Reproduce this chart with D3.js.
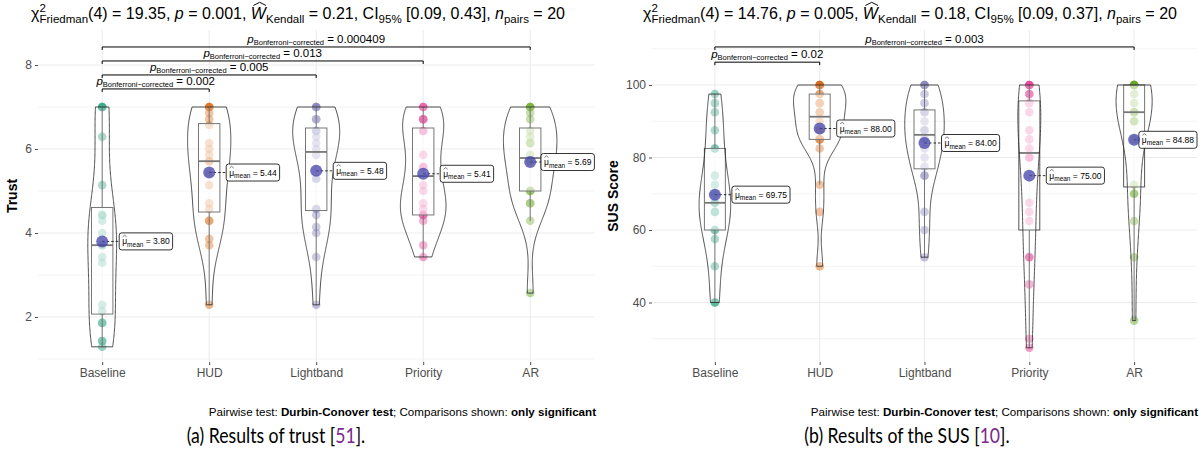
<!DOCTYPE html>
<html>
<head>
<meta charset="utf-8">
<script src="https://cdn.jsdelivr.net/npm/d3@7"></script>
<style>
  body { margin: 0; background: #fff; }
  svg { display: block; }
  text { font-family: "Liberation Sans", Arimo, Arial, sans-serif; white-space: pre; }
</style>
</head>
<body>
<div class="chart"></div>
<script>
// Conditions and palette (Dark2)
var conditions = ["Baseline", "HUD", "Lightband", "Priority", "AR"];
var conditionColors = ["#1B9E77", "#D95F02", "#7570B3", "#E7298A", "#66A61E"];

// Trust ratings, one array per condition (n = 20)
var trustBaseline = [1.29, 1.43, 1.43, 1.86, 1.86, 2.14, 2.29, 3.29, 3.43, 3.71, 3.71, 4.00, 4.29, 4.43, 4.43, 5.14, 6.29, 7, 7, 7];
var trustHUD = [2.29, 3.71, 3.86, 4.29, 4.29, 4.57, 4.71, 5.14, 5.43, 5.71, 5.71, 5.86, 6.00, 6.14, 6.57, 6.71, 6.86, 7, 7, 7];
var trustLightband = [2.29, 3.43, 4.00, 4.14, 4.43, 4.57, 4.57, 5.29, 5.29, 5.86, 6.00, 6.14, 6.29, 6.43, 6.43, 6.71, 6.71, 7, 7, 7];
var trustPriority = [3.43, 3.71, 4.29, 4.43, 4.43, 4.43, 4.57, 4.71, 5.00, 5.14, 5.57, 5.57, 5.86, 6.43, 6.43, 6.71, 6.71, 6.71, 7, 7];
var trustAR = [2.57, 4.29, 4.71, 4.71, 5.00, 5.00, 5.00, 5.71, 5.71, 5.71, 5.86, 6.14, 6.14, 6.29, 6.43, 6.71, 6.86, 7, 7, 7];
var trustMeans = [3.80, 5.44, 5.48, 5.41, 5.69];

// SUS scores, one array per condition (n = 20)
var susBaseline = [40, 40, 50, 57.5, 60, 60, 65, 65, 67.5, 67.5, 67.5, 70, 72.5, 75, 82.5, 82.5, 87.5, 92.5, 95, 97.5];
var susHUD = [50, 65, 72.5, 82.5, 85, 85, 85, 87.5, 87.5, 90, 92.5, 92.5, 95, 95, 97.5, 97.5, 100, 100, 100, 100];
var susLightband = [52.5, 60, 65, 75, 75, 77.5, 80, 82.5, 85, 85, 87.5, 87.5, 90, 92.5, 92.5, 95, 97.5, 100, 100, 100];
var susPriority = [27.5, 30, 45, 52.5, 52.5, 62.5, 65, 67.5, 80, 80, 82.5, 85, 87.5, 92.5, 95, 97.5, 97.5, 100, 100, 100];
var susAR = [35, 52.5, 62.5, 70, 70, 72.5, 85, 90, 90, 92.5, 92.5, 92.5, 95, 97.5, 100, 100, 100, 100, 100, 100];
var susMeans = [69.75, 88.00, 84.00, 75.00, 84.88];

// Significant pairwise comparisons (Bonferroni-corrected p)
var trustPairs = [["Baseline", "HUD", "0.002"], ["Baseline", "Lightband", "0.005"], ["Baseline", "Priority", "0.013"], ["Baseline", "AR", "0.000409"]];
var susPairs = [["Baseline", "HUD", "0.02"], ["Baseline", "AR", "0.003"]];

// Axis ticks
var trustTicks = [2, 4, 6, 8];
var trustMinor = [1, 3, 5, 7, 9];
var susTicks = [40, 60, 80, 100];
var susMinor = [30, 50, 70, 90, 110];

var svgWidth = 1201;
var svgHeight = 454;

var svg = d3.select(".chart")
  .append("svg")
  .attr("width", svgWidth)
  .attr("height", svgHeight);

// lay out a sequence of text runs (sub/superscripts, italics, hats) and return the group
function richText(parent, runs, x, y, anchor, family, squeeze) {
  var g = parent.append("g");
  var cx = 0, stackW = 0;
  runs.forEach(function(r) {
    var t = g.append("text")
      .attr("x", cx)
      .attr("y", r.dy || 0)
      .style("font-size", r.fs + "px")
      .attr("fill", r.fill || "#000")
      .text(r.t);
    if (family) t.style("font-family", family);
    if (r.italic) t.style("font-style", "italic");
    if (r.bold) t.style("font-weight", "bold");
    var w = t.node().getComputedTextLength();
    if (r.hat) {
      var hy = (r.dy || 0) - r.hatY;
      var sh = r.italic ? r.fs * 0.08 : 0;
      g.append("path")
        .attr("d", "M" + (cx + w * 0.08 + sh) + "," + hy + "L" + (cx + w * 0.5 + sh) + "," + (hy - r.fs * 0.2) + "L" + (cx + w * 0.92 + sh) + "," + hy)
        .attr("fill", "none")
        .attr("stroke", "#000")
        .attr("stroke-width", r.fs * 0.06);
    }
    if (r.stack) {
      stackW = w;
    } else {
      cx += Math.max(w, stackW);
      stackW = 0;
    }
  });
  var sx = squeeze || 1;
  var x0 = x;
  if (anchor === "middle") x0 = x - cx * sx / 2;
  if (anchor === "end") x0 = x - cx * sx;
  g.attr("transform", "translate(" + x0 + "," + y + ")" + (sx !== 1 ? " scale(" + sx + ",1)" : ""));
  return { g: g, width: cx };
}

function kde(values) {
  var sorted = values.slice().sort(d3.ascending);
  var n = sorted.length;
  var sd = d3.deviation(sorted);
  var iqr = d3.quantile(sorted, 0.75) - d3.quantile(sorted, 0.25);
  var lo = Math.min(sd, iqr / 1.34);
  if (!lo) lo = sd || 1;
  var bw = 0.9 * lo * Math.pow(n, -0.2);
  var lo2 = sorted[0], hi = sorted[n - 1];
  var pts = [];
  for (var i = 0; i <= 200; i++) {
    var v = lo2 + (hi - lo2) * i / 200;
    var s = 0;
    sorted.forEach(function(xi) {
      var z = (v - xi) / bw;
      s += Math.exp(-0.5 * z * z);
    });
    pts.push([v, s / (n * bw * Math.sqrt(2 * Math.PI))]);
  }
  return pts;
}

function drawPanel(cfg) {
  var x = d3.scalePoint()
    .domain(conditions)
    .range([cfg.left, cfg.right])
    .padding(0.6);
  var y = d3.scaleLinear()
    .domain(cfg.domain)
    .range(cfg.range);
  var step = x.step();

  var chart = svg.append("g");

  // grid
  chart.selectAll(".minor")
    .data(cfg.minor.filter(function(v) { return y(v) > cfg.top && y(v) < cfg.bottom; }))
    .enter().append("line")
    .attr("x1", cfg.left).attr("x2", cfg.right)
    .attr("y1", function(d) { return y(d); }).attr("y2", function(d) { return y(d); })
    .attr("stroke", "#F0F0F0").attr("stroke-width", 0.8);
  chart.selectAll(".major")
    .data(cfg.ticks)
    .enter().append("line")
    .attr("x1", cfg.left).attr("x2", cfg.right)
    .attr("y1", function(d) { return y(d); }).attr("y2", function(d) { return y(d); })
    .attr("stroke", "#EBEBEB").attr("stroke-width", 1);
  chart.selectAll(".vgrid")
    .data(conditions)
    .enter().append("line")
    .attr("x1", function(d) { return x(d); }).attr("x2", function(d) { return x(d); })
    .attr("y1", cfg.top).attr("y2", cfg.bottom)
    .attr("stroke", "#EBEBEB").attr("stroke-width", 1);

  // y axis
  var yAxis = chart.append("g")
    .attr("transform", "translate(" + cfg.left + ",0)")
    .call(d3.axisLeft(y).tickValues(cfg.ticks).tickFormat(d3.format("d")).tickSize(3).tickPadding(3));
  yAxis.select(".domain").remove();
  yAxis.selectAll("line").attr("stroke", "#4D4D4D");
  yAxis.selectAll("text").attr("fill", "#4D4D4D").style("font-size", "12px");

  // x axis
  var xAxis = chart.append("g")
    .attr("transform", "translate(0," + cfg.bottom + ")")
    .call(d3.axisBottom(x).tickSize(3).tickPadding(3));
  xAxis.select(".domain").remove();
  xAxis.selectAll("line").attr("stroke", "#4D4D4D");
  xAxis.selectAll("text").attr("fill", "#4D4D4D").style("font-size", "12px");

  // y label
  chart.append("text")
    .attr("transform", "translate(" + cfg.ylabX + "," + ((cfg.top + cfg.bottom) / 2) + ") rotate(-90)")
    .attr("text-anchor", "middle")
    .style("font-size", "14px")
    .style("font-weight", "bold")
    .text(cfg.ylab);

  var densities = cfg.groups.map(kde);
  var maxDens = d3.max(densities, function(d) { return d3.max(d, function(p) { return p[1]; }); });

  var marks = chart.append("g");

  cfg.groups.forEach(function(vals, i) {
    var cx = x(conditions[i]);
    var sorted = vals.slice().sort(d3.ascending);

    // raw points
    marks.selectAll(null)
      .data(sorted)
      .enter().append("circle")
      .attr("cx", cx)
      .attr("cy", function(d) { return y(d); })
      .attr("r", 4.3)
      .attr("fill", conditionColors[i])
      .attr("fill-opacity", 0.45);

    // box plot
    var q1 = d3.quantile(sorted, 0.25), med = d3.quantile(sorted, 0.5), q3 = d3.quantile(sorted, 0.75);
    var iqr = q3 - q1;
    var wLo = d3.min(sorted.filter(function(v) { return v >= q1 - 1.5 * iqr; }));
    var wHi = d3.max(sorted.filter(function(v) { return v <= q3 + 1.5 * iqr; }));
    var bw = step * 0.1;
    marks.append("line")
      .attr("x1", cx).attr("x2", cx).attr("y1", y(wHi)).attr("y2", y(q3))
      .attr("stroke", "#555").attr("stroke-width", 1);
    marks.append("line")
      .attr("x1", cx).attr("x2", cx).attr("y1", y(q1)).attr("y2", y(wLo))
      .attr("stroke", "#555").attr("stroke-width", 1);
    marks.append("rect")
      .attr("x", cx - bw).attr("width", bw * 2)
      .attr("y", y(q3)).attr("height", y(q1) - y(q3))
      .attr("fill", "#fff").attr("fill-opacity", 0.5)
      .attr("stroke", "#555").attr("stroke-width", 1);
    marks.append("line")
      .attr("x1", cx - bw).attr("x2", cx + bw).attr("y1", y(med)).attr("y2", y(med))
      .attr("stroke", "#555").attr("stroke-width", 1.8);

    // violin (scale = "area", width 0.5)
    var dens = densities[i];
    var half = function(p) { return p[1] / maxDens * step * 0.25; };
    var outline = dens.map(function(p) { return [cx - half(p), y(p[0])]; })
      .concat(dens.slice().reverse().map(function(p) { return [cx + half(p), y(p[0])]; }));
    marks.append("path")
      .attr("d", d3.line()(outline) + "Z")
      .attr("fill", "#fff").attr("fill-opacity", 0.2)
      .attr("stroke", "#222").attr("stroke-width", 0.8);
  });

  // means and labels
  cfg.means.forEach(function(m, i) {
    var cx = x(conditions[i]);
    var cy = y(m);
    var lab = richText(chart, [
      { t: "\u03bc", fs: 8.5, hat: true, hatY: 7.5 },
      { t: "mean", fs: 6.5, dy: 2.5 },
      { t: " = " + m.toFixed(2), fs: 8.5 }
    ], 0, 0, "start");
    var pad = 3;
    var bx = Math.min(cx + 17, cfg.right - lab.width - 2 * pad);
    lab.g.attr("transform", "translate(" + (bx + pad) + "," + (cy + 3) + ")");
    chart.insert("line", function() { return lab.g.node(); })
      .attr("x1", cx).attr("x2", bx).attr("y1", cy).attr("y2", cy)
      .attr("stroke", "#000").attr("stroke-width", 0.8)
      .attr("stroke-dasharray", "2.5,2");
    chart.insert("rect", function() { return lab.g.node(); })
      .attr("x", bx).attr("y", cy - 8.5)
      .attr("width", lab.width + 2 * pad).attr("height", 17)
      .attr("rx", 2.5)
      .attr("fill", "#fff").attr("stroke", "#000").attr("stroke-width", 0.8);
    chart.insert("circle", function() { return lab.g.node(); })
      .attr("cx", cx).attr("cy", cy).attr("r", 6)
      .attr("fill", "#4040a8").attr("fill-opacity", 0.75);
  });

  // significance brackets
  cfg.pairs.forEach(function(p, i) {
    var level = cfg.bracketStart + i * cfg.bracketStep;
    var yl = y(level);
    var x1 = x(p[0]), x2 = x(p[1]);
    chart.append("path")
      .attr("d", "M" + x1 + "," + (yl + 3) + "V" + yl + "H" + x2 + "V" + (yl + 3))
      .attr("fill", "none").attr("stroke", "#000").attr("stroke-width", 1);
    richText(chart, [
      { t: "p", fs: 11.5, italic: true },
      { t: "Bonferroni\u2212corrected", fs: 7.5, dy: 2 },
      { t: " = " + p[2], fs: 11.5 }
    ], (x1 + x2) / 2, yl - 4, "middle");
  });

  // title
  richText(svg, [
    { t: "\u03c7", fs: 16 },
    { t: "2", fs: 11.5, dy: -7, stack: true },
    { t: "Friedman", fs: 11.5, dy: 4 },
    { t: "(4) = " + cfg.stat + ", ", fs: 16 },
    { t: "p", fs: 16, italic: true },
    { t: " = " + cfg.p + ", ", fs: 16 },
    { t: "W", fs: 16, italic: true, hat: true, hatY: 13.5 },
    { t: "Kendall", fs: 11.5, dy: 4 },
    { t: " = " + cfg.w + ", CI", fs: 16 },
    { t: "95%", fs: 11.5, dy: 4 },
    { t: " [" + cfg.ci + "], ", fs: 16 },
    { t: "n", fs: 16, italic: true },
    { t: "pairs", fs: 11.5, dy: 4 },
    { t: " = 20", fs: 16 }
  ], cfg.titleX, 19, "middle");

  // footnote
  richText(svg, [
    { t: "Pairwise test: ", fs: 11.6 },
    { t: "Durbin-Conover test", fs: 11.6, bold: true },
    { t: "; Comparisons shown: ", fs: 11.6 },
    { t: "only significant", fs: 11.6, bold: true }
  ], cfg.footX, 416, "end");

  // caption
  var capRuns = cfg.caption.map(function(c) {
    return { t: c[0], fs: 20.5, fill: c[1] };
  });
  richText(svg, capRuns, cfg.capX, 443, "middle", "Lato, 'Open Sans', sans-serif", 0.86);
}

drawPanel({
  groups: [trustBaseline, trustHUD, trustLightband, trustPriority, trustAR],
  means: trustMeans,
  pairs: trustPairs,
  left: 38, right: 594.4,
  top: 30, bottom: 362,
  domain: [1, 8], range: [359, 65],
  ticks: trustTicks, minor: trustMinor,
  bracketStart: 7.43, bracketStep: 0.333,
  ylab: "Trust", ylabX: 17,
  stat: "19.35", p: "0.001", w: "0.21", ci: "0.09, 0.43",
  titleX: 298, footX: 596, capX: 276,
  caption: [["(a) Results of trust [", "#000"], ["51", "#7B2A8C"], ["].", "#000"]]
});

drawPanel({
  groups: [susBaseline, susHUD, susLightband, susPriority, susAR],
  means: susMeans,
  pairs: susPairs,
  left: 652, right: 1197,
  top: 30, bottom: 362,
  domain: [40, 100], range: [302.5, 85],
  ticks: susTicks, minor: susMinor,
  bracketStart: 106.3, bracketStep: 4.2,
  ylab: "SUS Score", ylabX: 618,
  stat: "14.76", p: "0.005", w: "0.18", ci: "0.09, 0.37",
  titleX: 910, footX: 1198, capX: 907,
  caption: [["(b) Results of the SUS [", "#000"], ["10", "#7B2A8C"], ["].", "#000"]]
});
</script>
</body>
</html>
